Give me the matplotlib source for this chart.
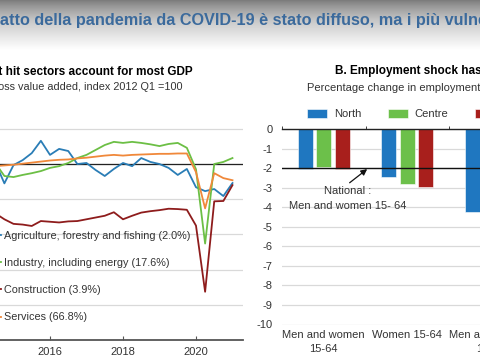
import matplotlib
matplotlib.use("Agg")
import matplotlib.pyplot as plt
from matplotlib.colors import LinearSegmentedColormap
import numpy as np
import pandas as pd

# ---- data -------------------------------------------------------------
quarters = pd.period_range("2014Q2", "2021Q1", freq="Q")

agriculture = [101.0, 100.5, 94.5,
               99.7, 101.1, 103.1, 106.6,
               102.6, 104.3, 103.7, 100.0,
               100.3, 98.3, 96.6, 98.6,
               100.3, 99.4, 101.7, 100.6,
               100.0, 98.9, 96.9, 98.6,
               93.4, 92.3, 92.9, 90.9,
               94.6]
industry = [101.0, 100.3, 96.6,
            96.3, 96.9, 97.4, 98.0,
            98.9, 99.4, 100.3, 101.7,
            102.6, 104.0, 105.4, 106.3,
            106.0, 106.3, 106.0, 105.6,
            105.1, 105.7, 106.0, 104.6,
            98.5, 77.4, 100.0, 100.6,
            101.7]
construction = [87.0, 86.0, 84.3,
                83.0, 82.8, 82.4, 83.8,
                83.6, 83.4, 83.7, 83.8,
                84.3, 84.8, 85.3, 86.3,
                84.3, 85.3, 86.2, 86.6,
                86.9, 87.3, 87.2, 87.0,
                82.5, 63.7, 89.4, 89.5,
                94.0]
services = [99.2, 99.4, 99.6,
            99.8, 100.1, 100.4, 100.7,
            101.0, 101.2, 101.3, 101.6,
            101.8, 102.1, 102.4, 102.6,
            102.4, 102.6, 102.7, 102.8,
            102.9, 102.9, 103.0, 103.0,
            97.7, 87.4, 97.4, 96.0,
            95.4]
sector_labels = ["Agriculture, forestry and fishing (2.0%)",
                 "Industry, including energy (17.6%)",
                 "Construction (3.9%)",
                 "Services (66.8%)"]
base_index = 100

groups = ["Men and women\n15-64", "Women 15-64", "Men and women\n15-24"]
north = [-2.05, -2.45, -4.25]
centre = [-1.95, -2.8, -5.0]
south = [-2.05, -2.95, -5.5]
national = -2.0

# ---- figure -----------------------------------------------------------
plt.rcParams["font.family"] = ["Liberation Sans", "DejaVu Sans"]
plt.rcParams["axes.unicode_minus"] = False
W, H = 480, 360
fig = plt.figure(figsize=(W / 100, H / 100), dpi=100)


def box(l, t, r, b):
    return [l / W, 1 - b / H, (r - l) / W, (b - t) / H]


# slide header gradient
hdr = fig.add_axes(box(0, 0, W, 50))
grad = np.linspace(0, 1, 100) ** 0.8
cmap = LinearSegmentedColormap.from_list("hdr", ["#7a7a7a", "#c9c9c9", "#ffffff"])
hdr.imshow(grad[:, None], cmap=cmap, vmin=0, vmax=1, aspect="auto",
           extent=[0, 1, 0, 1], origin="upper")
hdr.axis("off")

t = fig.text(0, 1 - 21 / H, "L'impatto della pandemia da COVID-19 è stato diffuso, "
             "ma i più vulnerabili sono stati colpiti maggiormente",
             fontsize=11.7, fontweight="bold", color="#3b6a9c", va="center")
r = fig.canvas.get_renderer()
probe = fig.text(0, 0, "L'imp", fontsize=11.7, fontweight="bold")
shift = probe.get_window_extent(r).width
probe.remove()
t.set_x(-shift / W)

# ---- panel A ----------------------------------------------------------
x = quarters.year + (quarters.quarter - 1) / 4
ax = fig.add_axes(box(-23, 121.8, 243, 340))
cols = ["#2a7db6", "#6cbf45", "#8e1c1c", "#f0883a"]
for vals, lab, c in zip([agriculture, industry, construction, services],
                        sector_labels, cols):
    ax.plot(x, vals, color=c, lw=1.3, label=lab)
ax.axhline(base_index, color="#222222", lw=0.9, zorder=1)
ax.set_xlim(2014.0, 2021.288)
ax.set_ylim(50, 112)
ax.set_yticks(range(50, 111, 10))
ax.grid(axis="y", color="#d9d9d9", lw=0.9)
ax.set_axisbelow(True)
for s in ["top", "right", "left"]:
    ax.spines[s].set_visible(False)
ax.spines["bottom"].set_color("#555555")
ax.spines["bottom"].set_linewidth(1.3)
ax.set_xticks([2016, 2018, 2020])
ax.tick_params(axis="x", direction="in", length=3, color="#555555",
               labelsize=8, labelcolor="#333333", pad=5)
ax.tick_params(axis="y", length=0, labelleft=False)
ax.legend(loc="upper left", bbox_to_anchor=(-12 / W, 1 - 231 / H),
          bbox_transform=fig.transFigure, frameon=False, fontsize=7.8,
          handlelength=1.2, handletextpad=0.3, labelspacing=1.58,
          borderpad=0, borderaxespad=0, labelcolor="#333333")

fig.text(193 / W, 1 - 72 / H, "A. Most hit sectors account for most GDP",
         ha="right", va="center", fontsize=8.5, fontweight="bold")
fig.text(183 / W, 1 - 87 / H, "Gross value added, index 2012 Q1 =100",
         ha="right", va="center", fontsize=7.8, color="#333333")

# ---- panel B ----------------------------------------------------------
bx = fig.add_axes(box(282, 129, 532.5, 324.5))
pos = np.arange(len(groups))
bw, off = 0.18, 0.22
bcols = ["#1f77c0", "#6cc04a", "#a81f1c"]
for k, (vals, lab, c) in enumerate(zip([north, centre, south],
                                       ["North", "Centre", "South"], bcols)):
    bx.bar(pos + (k - 1) * off, vals, bw, color=c, label=lab,
           edgecolor="white", lw=0.4, zorder=2)
bx.axhline(national, color="#111111", lw=1.0, zorder=3)
bx.set_xlim(-0.5, len(groups) - 0.5)
bx.set_ylim(-10, 0)
bx.set_yticks(range(-10, 1))
bx.grid(axis="y", color="#d9d9d9", lw=0.9)
bx.set_axisbelow(True)
for s in ["right", "left", "bottom"]:
    bx.spines[s].set_visible(False)
bx.spines["top"].set_color("#222222")
bx.spines["top"].set_linewidth(1.0)
bx.set_xticks(pos)
bx.set_xticklabels(groups, linespacing=1.5)
bx.set_xticks(np.r_[pos - 0.5, pos[-1] + 0.5], minor=True)
bx.tick_params(axis="x", which="major", length=0, labelsize=8,
               labelcolor="#333333", pad=4)
bx.tick_params(axis="x", which="minor", bottom=False, top=True,
               direction="out", length=2.5, color="#222222")
bx.tick_params(axis="y", length=0, labelsize=8, labelcolor="#333333", pad=7)
bx.annotate("", xy=(0.52, national - 0.05), xytext=(0.31, -2.75),
            arrowprops=dict(arrowstyle="-|>", color="#111111", lw=0.9,
                            shrinkA=0, shrinkB=0, mutation_scale=9))
bx.text(0.29, -3.55, "National :\nMen and women 15- 64", ha="center",
        va="center", fontsize=8, color="#333333", linespacing=1.7)
bx.legend(loc="center left", bbox_to_anchor=(307 / W, 1 - 114 / H),
          bbox_transform=fig.transFigure, ncol=3, frameon=False, fontsize=8,
          handlelength=1.8, handleheight=0.85, handletextpad=0.6,
          columnspacing=2.4, borderpad=0, borderaxespad=0,
          labelcolor="#333333")

fig.text(335 / W, 1 - 71 / H, "B. Employment shock has been asymmetric",
         ha="left", va="center", fontsize=8.5, fontweight="bold")
fig.text(307 / W, 1 - 88 / H,
         "Percentage change in employment by area, 2020 Q4 y-o-y",
         ha="left", va="center", fontsize=8, color="#333333")

fig.savefig("out.png", dpi=100)
